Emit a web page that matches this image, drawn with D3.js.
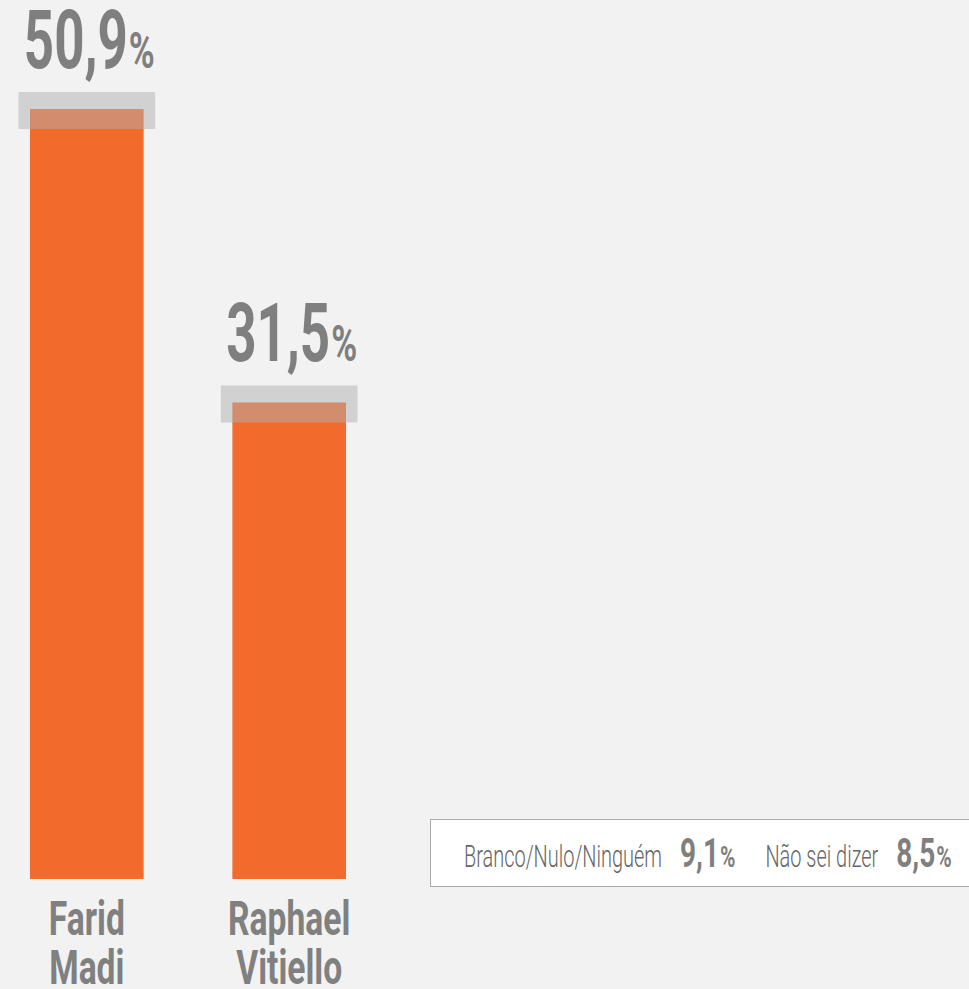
<!DOCTYPE html>
<html>
<head>
<meta charset="utf-8">
<script src="https://cdn.jsdelivr.net/npm/d3@7"></script>
<style>
html,body{margin:0;padding:0;background:#f2f2f2;}
svg{display:block;}
text{font-family:Roboto,"Liberation Sans",sans-serif;}
</style>
</head>
<body>
<svg id="chart" width="969" height="989"></svg>
<script>
// ---- data ----
const candidates = [["Farid","Madi"],["Raphael","Vitiello"]];
const values = [50.9, 31.5];
const valueLabels = ["50,9","31,5"];
const otherLabels = ["Branco/Nulo/Ninguém","Não sei dizer"];
const otherValues = ["9,1","8,5"];

const svg = d3.select("#chart");
const W = 969, H = 989;
svg.append("rect").attr("width",W).attr("height",H).attr("fill","#f2f2f2");

const x = d3.scaleBand().domain(d3.range(values.length)).range([30, 346]).paddingInner(0.4385).paddingOuter(0);
const y = d3.scaleLinear().domain([0, 50.9]).range([879, 109]);

const orange = "#f26a2c", grayText = "#7f7f7f";

// calibrate a horizontal condensation factor for a text style
function calib(size, weight, sample, targetW){
  const t = svg.append("text").attr("font-size",size).attr("font-weight",weight).text(sample);
  const w = t.node().getComputedTextLength(); t.remove();
  return targetW / w;
}
const sxValue = calib(82, 700, "50,9", 104);
const sxPct = calib(50, 700, "%", 26);
const sxCat = calib(48, 700, "Farid", 76);
const sxOther = calib(32, 300, "Branco/Nulo/Ninguém", 198);
const sxOtherVal = calib(41, 700, "8,5", 39);
const sxOtherPct = calib(29, 700, "%", 15.5);

// draws "number%" with right edge (anchor end) or left edge at given x
function valueText(sel, xPos, yPos, num, sizeN, sxN, sizeP, sxP, anchor, color){
  const gN = sel.append("text").attr("font-size",sizeN).attr("font-weight",700).attr("fill",color).text(num);
  const gP = sel.append("text").attr("font-size",sizeP).attr("font-weight",700).attr("fill",color).text("%");
  const wN = gN.node().getComputedTextLength()*sxN;
  const wP = gP.node().getComputedTextLength()*sxP;
  const left = anchor === "end" ? xPos - wN - wP - 1 : xPos;
  gN.attr("transform",`translate(${left},${yPos}) scale(${sxN},1)`);
  gP.attr("transform",`translate(${left+wN+1},${yPos}) scale(${sxP},1)`);
  return wN + wP + 1;
}

const g = svg.append("g");
values.forEach((v,i)=>{
  const bx = x(i), bw = x.bandwidth(), cx = bx + bw/2;
  g.append("rect").attr("x",bx).attr("y",y(v)).attr("width",bw).attr("height",y(0)-y(v)).attr("fill",orange);
  g.append("rect").attr("x",bx-11.5).attr("y",y(v)-17).attr("width",bw+23).attr("height",37)
    .attr("fill","#b0b0b0").attr("fill-opacity",0.5);
  valueText(g, cx+68, y(v)-41, valueLabels[i], 82, sxValue, 50, sxPct, "end", grayText);
  candidates[i].forEach((line,j)=>{
    g.append("text").attr("transform",`translate(${cx},${935 + j*49}) scale(${sxCat},1)`)
      .attr("text-anchor","middle").attr("fill","#808080").attr("font-weight",700)
      .attr("font-size",48).text(line);
  });
});

// ---- others box ----
const box = svg.append("g");
box.append("rect").attr("x",430.5).attr("y",819.5).attr("width",560).attr("height",67)
  .attr("fill","#ffffff").attr("stroke","#aaaaaa").attr("stroke-width",1);

let cursor = 464;
const baseY = 867;
otherLabels.forEach((lab,i)=>{
  const t1 = box.append("text").attr("fill","#666666").attr("font-size",32).attr("font-weight",300).text(lab);
  t1.attr("transform",`translate(${cursor},${baseY}) scale(${sxOther},1)`);
  cursor += t1.node().getComputedTextLength()*sxOther + 18;
  cursor += valueText(box, cursor, baseY, otherValues[i], 41, sxOtherVal, 29, sxOtherPct, "start", grayText) + 30;
});
</script>
</body>
</html>
